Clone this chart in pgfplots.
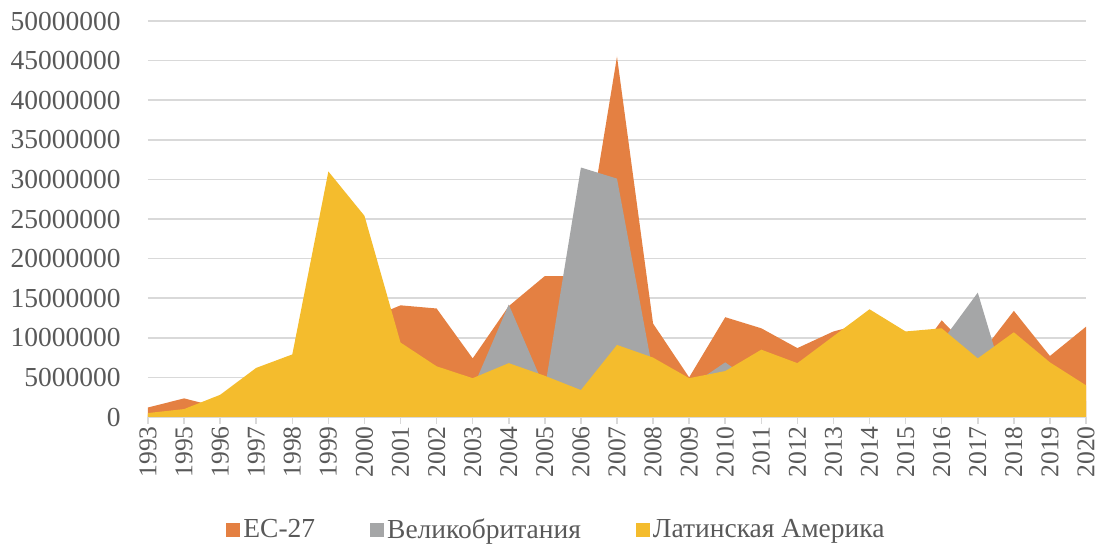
\documentclass[border=0pt]{standalone}
\usepackage{fontspec}
\setmainfont{Liberation Serif}
\usepackage{pgfplots}
\pgfplotsset{compat=1.18}
\definecolor{cEU}{HTML}{E48042}
\definecolor{cUK}{HTML}{A5A6A7}
\definecolor{cLA}{HTML}{F4BC2D}
\definecolor{txt}{HTML}{595959}
\definecolor{grd}{HTML}{D9D9D9}
\begin{document}
\begin{tikzpicture}
\begin{axis}[
  at={(0pt,0pt)}, anchor=south west,
  scale only axis, width=469pt, height=198pt,
  xmin=0, xmax=26, ymin=0, ymax=50000000,
  xtick={0,1,2,3,4,5,6,7,8,9,10,11,12,13,14,15,16,17,18,19,20,21,22,23,24,25,26},
  xticklabels={1993,1995,1996,1997,1998,1999,2000,2001,2002,2003,2004,2005,2006,2007,2008,2009,2010,2011,2012,2013,2014,2015,2016,2017,2018,2019,2020},
  ytick={0,5000000,10000000,15000000,20000000,25000000,30000000,35000000,40000000,45000000,50000000},
  scaled y ticks=false,
  /pgf/number format/.cd, fixed, precision=0, 1000 sep={}, assume math mode=true, /pgfplots/.cd,
  ymajorgrids, major grid style={grd, line width=0.75pt},
  axis line style={draw=none},
  xtick style={grd, line width=0.75pt}, ytick style={draw=none},
  tick align=outside, major tick length=3.5pt, xtick pos=left,
  ticklabel style={font=\fontsize{13.75}{16}\selectfont, text=txt},
  x tick label style={rotate=90, anchor=east, inner sep=1pt, font=\fontsize{12.8}{15}\selectfont},
  y tick label style={anchor=east, inner sep=0pt, xshift=-10pt},
  legend style={at={(0.436,-0.285)}, anchor=center, draw=none, fill=none,
    legend columns=3, font=\fontsize{13.75}{16}\selectfont, text=txt,
    /tikz/every even column/.append style={column sep=26pt},
    nodes={inner sep=1.5pt}},
  legend image code/.code={\fill[#1] (0pt,-3.5pt) rectangle (7pt,3.5pt);},
]
\addplot[fill=cEU, draw=none] coordinates {
(0,1200000) (1,2350000) (2,1200000) (3,3500000) (4,5000000) (5,8000000) (6,12200000)
(7,14100000) (8,13700000) (9,7400000) (10,14000000) (11,17800000) (12,17800000)
(13,45500000) (14,11800000) (15,5000000) (16,12600000) (17,11200000) (18,8700000)
(19,10800000) (20,12000000) (21,6000000) (22,12200000) (23,7500000) (24,13400000)
(25,7700000) (26,11400000)} \closedcycle;
\addlegendentry{ЕС-27}
\addplot[fill=cUK, draw=none] coordinates {
(0,300000) (1,500000) (2,1000000) (3,1500000) (4,2000000) (5,2500000) (6,3000000)
(7,3000000) (8,3000000) (9,3600000) (10,14200000) (11,3600000) (12,31500000)
(13,30100000) (14,5600000) (15,3800000) (16,6900000) (17,3700000) (18,4000000)
(19,5000000) (20,6000000) (21,7000000) (22,9500000) (23,15700000) (24,500000)
(25,2000000) (26,2000000)} \closedcycle;
\addlegendentry{Великобритания}
\addplot[fill=cLA, draw=none] coordinates {
(0,500000) (1,1000000) (2,2800000) (3,6200000) (4,7900000) (5,31000000) (6,25400000)
(7,9400000) (8,6400000) (9,4900000) (10,6800000) (11,5200000) (12,3400000)
(13,9100000) (14,7500000) (15,4900000) (16,5800000) (17,8500000) (18,6800000)
(19,10200000) (20,13600000) (21,10800000) (22,11200000) (23,7400000) (24,10700000)
(25,6900000) (26,4000000)} \closedcycle;
\addlegendentry{Латинская Америка}
\end{axis}
\pgfresetboundingbox
\useasboundingbox (-74pt,-66pt) rectangle (474.5pt,208.5pt);
\end{tikzpicture}
\end{document}
